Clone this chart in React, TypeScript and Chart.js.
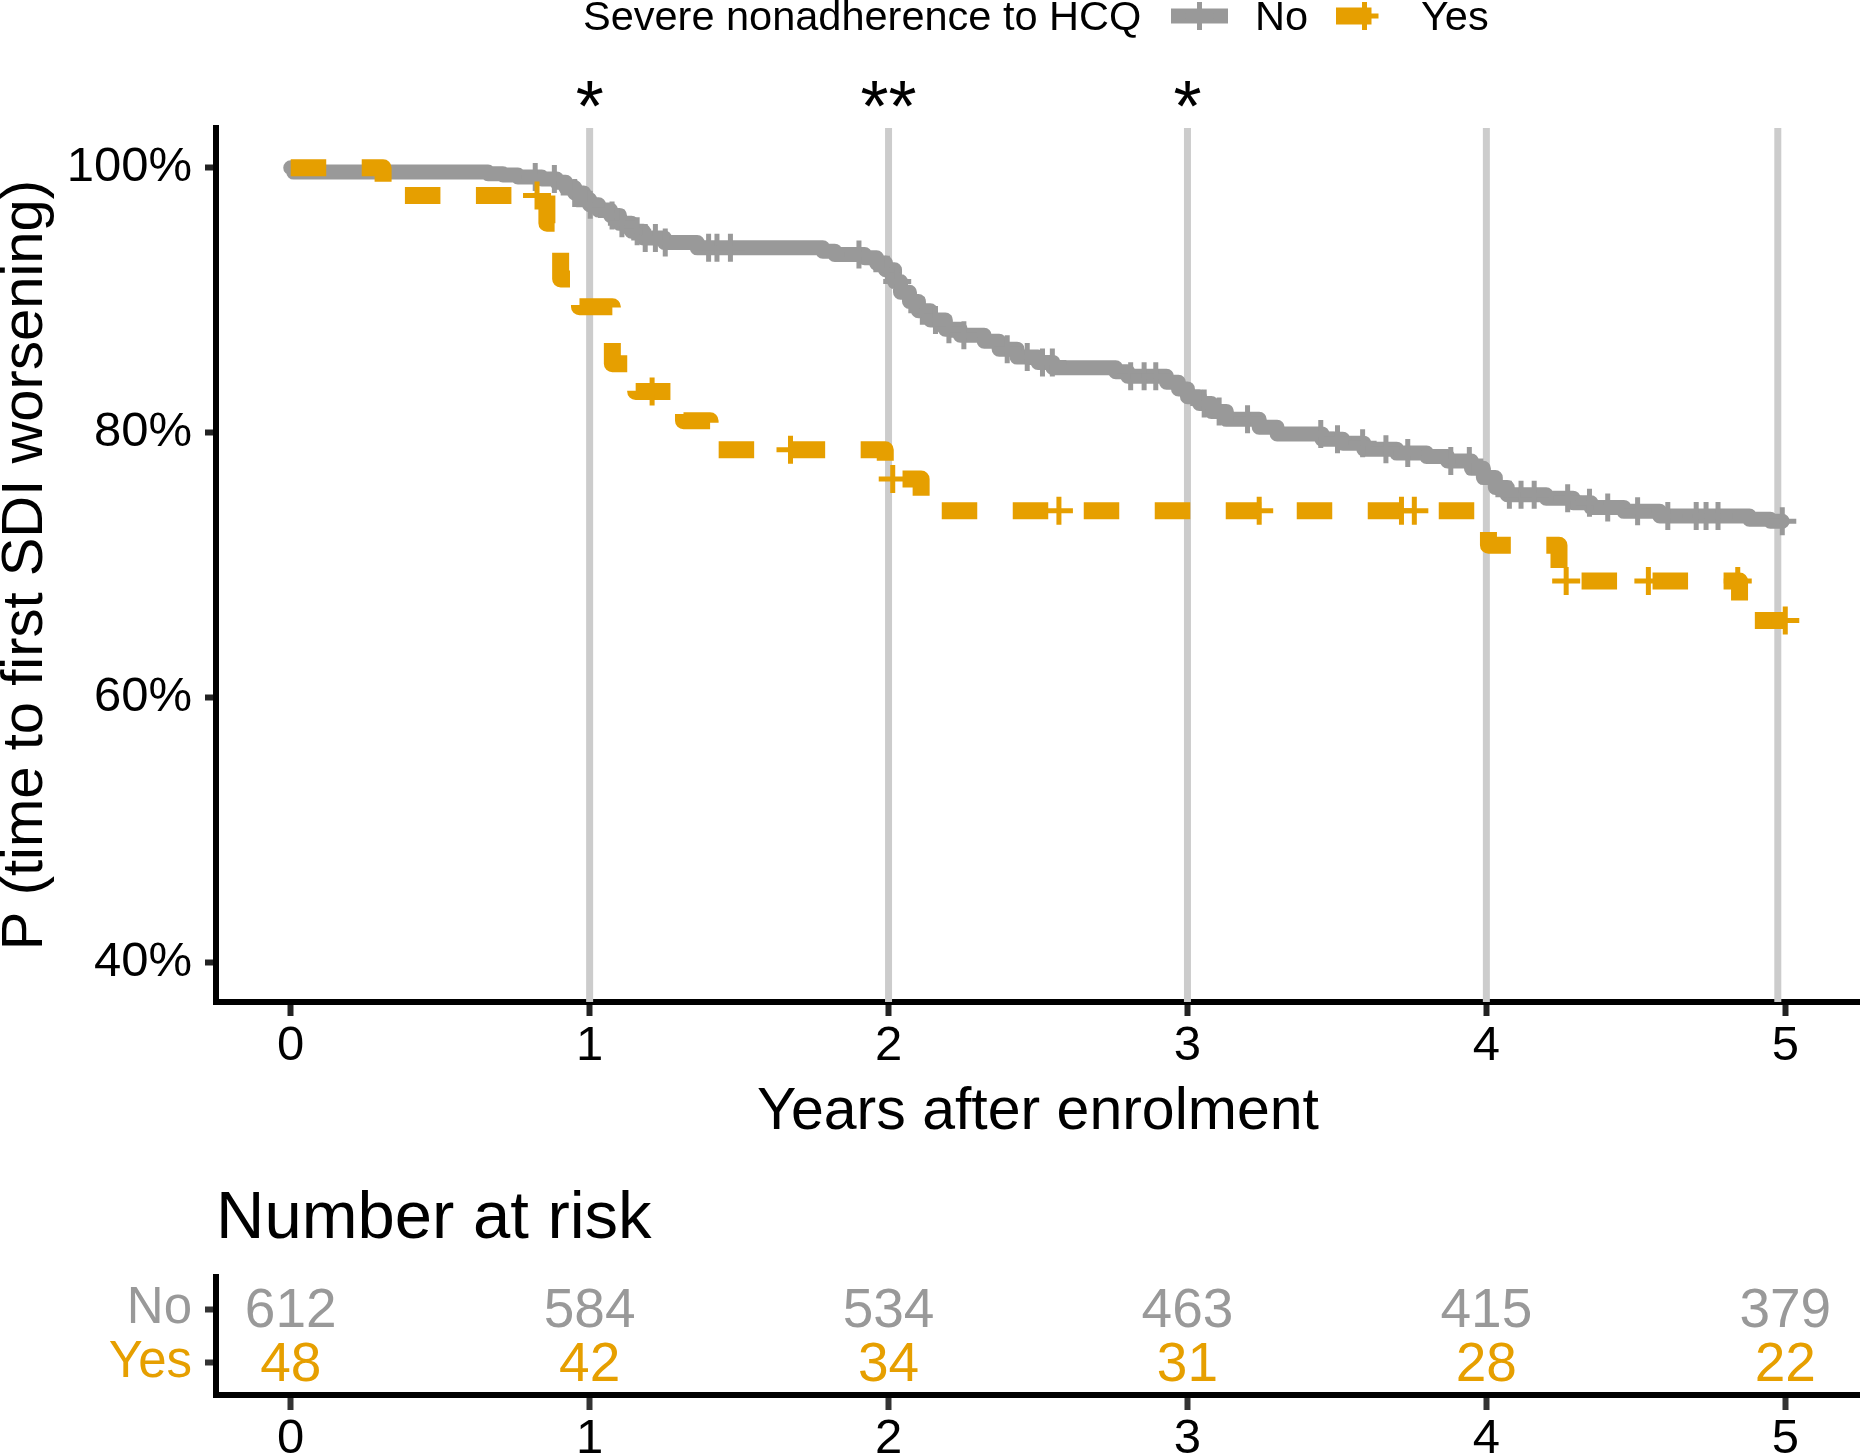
import React, { useEffect, useRef } from 'react';
import { Chart, registerables } from 'chart.js';

Chart.register(...registerables);

const FONT = "'Liberation Sans', Arial, Helvetica, sans-serif";
const GREY = '#999999';
const ORANGE = '#E69F00';
const GUIDE_COLOR = '#CCCCCC';

// ---------- data ----------
const GROUPS = ['No', 'Yes'];
const LEGEND_TITLE = 'Severe nonadherence to HCQ';
const X_TITLE = 'Years after enrolment';
const Y_TITLE = 'P (time to first SDI worsening)';
const RISK_TITLE = 'Number at risk';

// Kaplan-Meier steps, group "No" (time in years, survival in %)
const NO_TIMES = [0, 0.01, 0.66, 0.71, 0.76, 0.84, 0.89, 0.92, 0.95, 0.98, 1.0, 1.03, 1.07, 1.1, 1.14, 1.18, 1.25, 1.36,
  1.78, 1.82, 1.92, 1.96, 1.99, 2.02, 2.04, 2.07, 2.1, 2.14, 2.19, 2.24, 2.32, 2.37, 2.43, 2.5, 2.55, 2.76, 2.8, 2.93,
  2.97, 3.0, 3.04, 3.08, 3.13, 3.24, 3.3, 3.45, 3.52, 3.59, 3.7, 3.8, 3.87, 3.95, 3.99, 4.03, 4.07, 4.2, 4.29, 4.35,
  4.46, 4.58, 4.88, 4.95, 4.99];
const NO_SURV = [100, 99.67, 99.55, 99.45, 99.3, 99.15, 98.9, 98.5, 98.1, 97.6, 97.2, 96.8, 96.4, 95.8, 95.2, 94.7, 94.35, 93.95,
  93.7, 93.45, 93.2, 92.8, 92.3, 91.4, 90.6, 89.9, 89.2, 88.5, 87.8, 87.35, 86.9, 86.3, 85.7, 85.3, 84.9, 84.6, 84.25, 83.8,
  83.3, 82.7, 82.2, 81.6, 81.0, 80.4, 79.9, 79.5, 79.2, 78.75, 78.45, 78.2, 77.85, 77.3, 76.6, 75.85, 75.3, 75.05, 74.7, 74.35,
  74.05, 73.7, 73.45, 73.3, 73.3];
const NO_CENSOR = [0.818, 0.882, 0.95, 1.002, 1.075, 1.108, 1.159, 1.186, 1.22, 1.253, 1.398, 1.426, 1.471, 1.901, 1.996,
  2.029, 2.113, 2.157, 2.202, 2.252, 2.397, 2.464, 2.515, 2.548, 2.81, 2.855, 2.894, 3.056, 3.106, 3.201, 3.446, 3.502,
  3.586, 3.664, 3.737, 3.881, 3.943, 4.077, 4.116, 4.16, 4.272, 4.345, 4.406, 4.506, 4.607, 4.702, 4.735, 4.775, 4.99];

// Kaplan-Meier steps, group "Yes"
const YES_TIMES = [0, 0.309, 0.857, 0.903, 0.966, 1.076, 1.154, 1.314, 1.403, 1.989, 2.109, 4.007, 4.243, 4.847, 5.0];
const YES_SURV = [100, 97.9, 95.8, 91.6, 89.5, 85.2, 83.1, 80.9, 78.7, 76.5, 74.1, 71.5, 68.8, 65.8, 65.8];
const YES_CENSOR = [0.824, 1.209, 1.672, 2.014, 2.57, 3.24, 3.716, 3.759, 4.267, 4.542, 4.841, 5.0];

const X_TICKS = [0, 1, 2, 3, 4, 5];
const Y_TICKS = [40, 60, 80, 100];
const GUIDE_TIMES = [1, 2, 3, 4, 4.975];
const SIG_TIMES = [1, 2, 3];
const SIG_LABELS = ['*', '**', '*'];

const RISK_TIMES = [0, 1, 2, 3, 4, 5];
const RISK_NO = [612, 584, 534, 463, 415, 379];
const RISK_YES = [48, 42, 34, 31, 28, 22];

// ---------- helpers ----------
function survAt(times: number[], surv: number[], t: number) {
  let v = surv[0];
  for (let i = 0; i < times.length; i++) if (times[i] <= t) v = surv[i];
  return v;
}
const pts = (xs: number[], ys: number[]) => xs.map((x, i) => ({ x, y: ys[i] }));

const guidePlugin = {
  id: 'guides',
  beforeDatasetsDraw(chart: any) {
    const { ctx, chartArea } = chart;
    const xs = chart.scales.x;
    ctx.save();
    ctx.strokeStyle = GUIDE_COLOR;
    ctx.lineWidth = 7;
    GUIDE_TIMES.forEach((t) => {
      const px = xs.getPixelForValue(t);
      ctx.beginPath();
      ctx.moveTo(px, chartArea.top);
      ctx.lineTo(px, chartArea.bottom);
      ctx.stroke();
    });
    ctx.restore();
  },
};

const mainTextPlugin = {
  id: 'mainText',
  afterDraw(chart: any) {
    const { ctx, chartArea } = chart;
    const xs = chart.scales.x;
    ctx.save();
    // significance stars
    ctx.fillStyle = '#000';
    ctx.font = `72px ${FONT}`;
    ctx.textAlign = 'center';
    ctx.textBaseline = 'alphabetic';
    SIG_TIMES.forEach((t, i) => ctx.fillText(SIG_LABELS[i], xs.getPixelForValue(t), 131));
    // x title
    ctx.font = `59px ${FONT}`;
    ctx.fillText(X_TITLE, (chartArea.left + chartArea.right) / 2, 1129);
    // y title
    ctx.save();
    ctx.font = `58px ${FONT}`;
    ctx.translate(42, (chartArea.top + chartArea.bottom) / 2);
    ctx.rotate(-Math.PI / 2);
    ctx.fillText(Y_TITLE, 0, 0);
    ctx.restore();
    // legend
    ctx.textAlign = 'left';
    ctx.font = `41.5px ${FONT}`;
    ctx.fillText(LEGEND_TITLE, 583, 30);
    const keys = [
      { label: GROUPS[0], x0: 1171, x1: 1228, textX: 1255 },
      { label: GROUPS[1], x0: 1336, x1: 1393, textX: 1421 },
    ];
    keys.forEach((k) => {
      const ds = chart.data.datasets.find((d: any) => d.label === k.label);
      const cx = (k.x0 + k.x1) / 2;
      ctx.save();
      ctx.beginPath();
      ctx.rect(k.x0, 0, k.x1 - k.x0, 40);
      ctx.clip();
      ctx.strokeStyle = ds.borderColor;
      ctx.lineWidth = ds.borderWidth;
      ctx.lineCap = 'butt';
      ctx.setLineDash(ds.borderDash || []);
      ctx.beginPath();
      ctx.moveTo(k.x0, 16);
      ctx.lineTo(k.x1, 16);
      ctx.stroke();
      ctx.setLineDash([]);
      ctx.lineWidth = 5;
      ctx.beginPath();
      ctx.moveTo(cx - 14, 16);
      ctx.lineTo(cx + 14, 16);
      ctx.moveTo(cx, 2);
      ctx.lineTo(cx, 30);
      ctx.stroke();
      ctx.restore();
      ctx.fillStyle = '#000';
      ctx.fillText(k.label, k.textX, 30);
    });
    ctx.restore();
  },
};

const riskPlugin = {
  id: 'riskText',
  afterDatasetsDraw(chart: any) {
    const { ctx } = chart;
    ctx.save();
    ctx.textAlign = 'center';
    ctx.textBaseline = 'middle';
    ctx.font = `55px ${FONT}`;
    chart.data.datasets.forEach((ds: any, di: number) => {
      const meta = chart.getDatasetMeta(di);
      ctx.fillStyle = ds.borderColor;
      meta.data.forEach((el: any, i: number) => {
        ctx.fillText(String(ds.counts[i]), el.x, el.y + 3);
      });
    });
    ctx.textAlign = 'left';
    ctx.textBaseline = 'alphabetic';
    ctx.fillStyle = '#000';
    ctx.font = `67px ${FONT}`;
    ctx.fillText(RISK_TITLE, 216, 88);
    ctx.restore();
  },
};

export default function App() {
  const mainRef = useRef<HTMLCanvasElement>(null);
  const riskRef = useRef<HTMLCanvasElement>(null);

  useEffect(() => {
    document.body.style.margin = '0';
    const axisFont = { family: FONT, size: 49 };

    const main = new Chart(mainRef.current as HTMLCanvasElement, {
      type: 'line',
      data: {
        datasets: [
          {
            label: 'Yes censored',
            data: YES_CENSOR.map((t) => ({ x: t, y: survAt(YES_TIMES, YES_SURV, t) })),
            showLine: false,
            pointStyle: 'cross',
            pointRadius: 14,
            pointHoverRadius: 14,
            pointBorderWidth: 5,
            borderColor: ORANGE,
            backgroundColor: ORANGE,
            order: 0,
          },
          {
            label: GROUPS[1],
            data: pts(YES_TIMES, YES_SURV),
            borderColor: ORANGE,
            backgroundColor: ORANGE,
            borderWidth: 17,
            borderDash: [35.5, 35.5],
            borderCapStyle: 'butt',
            borderJoinStyle: 'round',
            stepped: true,
            pointRadius: 0,
            fill: false,
            order: 1,
          },
          {
            label: 'No censored',
            data: NO_CENSOR.map((t) => ({ x: t, y: survAt(NO_TIMES, NO_SURV, t) })),
            showLine: false,
            pointStyle: 'cross',
            pointRadius: 14,
            pointHoverRadius: 14,
            pointBorderWidth: 5,
            borderColor: GREY,
            backgroundColor: GREY,
            order: 2,
          },
          {
            label: GROUPS[0],
            data: pts(NO_TIMES, NO_SURV),
            borderColor: GREY,
            backgroundColor: GREY,
            borderWidth: 15,
            borderCapStyle: 'round',
            borderJoinStyle: 'round',
            stepped: true,
            pointRadius: 0,
            fill: false,
            order: 3,
          },
        ] as any,
      },
      options: {
        responsive: false,
        animation: false,
        layout: { autoPadding: false, padding: { left: 0, right: 0, top: 128, bottom: 0 } },
        plugins: { legend: { display: false }, tooltip: { enabled: false } },
        scales: {
          x: {
            type: 'linear',
            min: -0.25,
            max: 5.25,
            afterBuildTicks: (s: any) => { s.ticks = X_TICKS.map((v) => ({ value: v })); },
            afterFit: (s: any) => { s.height = 148; },
            grid: { drawOnChartArea: false, drawTicks: true, tickLength: 14, tickWidth: 6, tickColor: '#222' },
            border: { display: true, color: '#000', width: 6 },
            ticks: { font: axisFont, color: '#000', padding: 1, maxRotation: 0, autoSkip: false, callback: (v: any) => String(v) },
          },
          y: {
            type: 'linear',
            min: 37,
            max: 103,
            afterBuildTicks: (s: any) => { s.ticks = Y_TICKS.map((v) => ({ value: v })); },
            afterFit: (s: any) => { s.width = 216; },
            grid: { drawOnChartArea: false, drawTicks: true, tickLength: 11, tickWidth: 6, tickColor: '#222' },
            border: { display: true, color: '#000', width: 6 },
            ticks: { font: axisFont, color: '#000', padding: 13, autoSkip: false, callback: (v: any) => `${v}%` },
          },
        },
      } as any,
      plugins: [guidePlugin, mainTextPlugin],
    });

    const risk = new Chart(riskRef.current as HTMLCanvasElement, {
      type: 'scatter',
      data: {
        datasets: [
          { label: GROUPS[0], data: RISK_TIMES.map((t) => ({ x: t, y: 2 })), counts: RISK_NO, borderColor: GREY, pointRadius: 0, pointHoverRadius: 0 },
          { label: GROUPS[1], data: RISK_TIMES.map((t) => ({ x: t, y: 1 })), counts: RISK_YES, borderColor: ORANGE, pointRadius: 0, pointHoverRadius: 0 },
        ] as any,
      },
      options: {
        responsive: false,
        animation: false,
        layout: { autoPadding: false, padding: { left: 0, right: 0, top: 127, bottom: 0 } },
        plugins: { legend: { display: false }, tooltip: { enabled: false } },
        scales: {
          x: {
            type: 'linear',
            min: -0.25,
            max: 5.25,
            afterBuildTicks: (s: any) => { s.ticks = X_TICKS.map((v) => ({ value: v })); },
            afterFit: (s: any) => { s.height = 59; },
            grid: { drawOnChartArea: false, drawTicks: true, tickLength: 15, tickWidth: 6, tickColor: '#333' },
            border: { display: true, color: '#000', width: 6 },
            ticks: { font: axisFont, color: '#000', padding: 0, maxRotation: 0, autoSkip: false, callback: (v: any) => String(v) },
          },
          y: {
            type: 'linear',
            min: 0.4,
            max: 2.6,
            afterBuildTicks: (s: any) => { s.ticks = [1, 2].map((v) => ({ value: v })); },
            afterFit: (s: any) => { s.width = 216; },
            grid: { drawOnChartArea: false, drawTicks: true, tickLength: 11, tickWidth: 6, tickColor: '#333' },
            border: { display: true, color: '#000', width: 6 },
            ticks: {
              font: { family: FONT, size: 51 },
              padding: 13,
              autoSkip: false,
              color: (c: any) => (c.tick && c.tick.value === 2 ? GREY : ORANGE),
              callback: (v: any) => (v === 2 ? GROUPS[0] : GROUPS[1]),
            },
          },
        },
      } as any,
      plugins: [riskPlugin],
    });

    return () => {
      main.destroy();
      risk.destroy();
    };
  }, []);

  return (
    <div style={{ position: 'absolute', left: 0, top: 0, width: 1860, height: 1454, background: '#fff', overflow: 'hidden' }}>
      <canvas ref={mainRef} width={1860} height={1150} style={{ position: 'absolute', left: 0, top: 0, width: 1860, height: 1150 }} />
      <canvas ref={riskRef} width={1860} height={304} style={{ position: 'absolute', left: 0, top: 1150, width: 1860, height: 304 }} />
    </div>
  );
}
